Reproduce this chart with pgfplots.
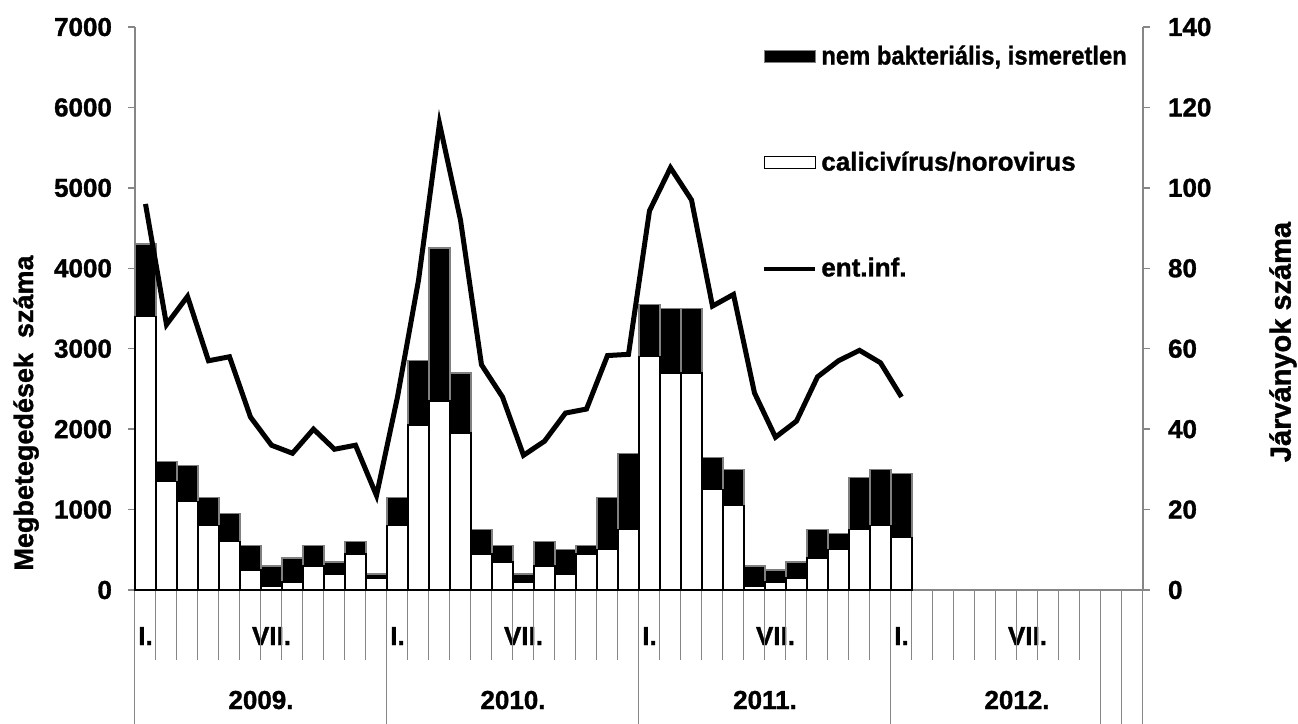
\documentclass[border=0pt]{standalone}
\usepackage{graphicx}
\usepackage{pgfplots}
\usepackage{pgfplotstable}
\pgfplotsset{compat=1.18}
\usepackage{fontspec}
\setmainfont{Liberation Sans}[BoldFeatures={FakeBold=1.2}]
\definecolor{axgray}{RGB}{134,134,134}
\newcommand{\lbl}{\bfseries\fontsize{13}{15}\selectfont}

\pgfplotstableread{
m white black
1 3400 900
2 1350 250
3 1100 450
4 800 350
5 600 350
6 250 300
7 50 250
8 100 300
9 300 250
10 200 150
11 450 150
12 150 50
13 800 350
14 2050 800
15 2350 1900
16 1950 750
17 450 300
18 350 200
19 100 100
20 300 300
21 200 300
22 450 100
23 500 650
24 750 950
25 2900 650
26 2700 800
27 2700 800
28 1250 400
29 1050 450
30 50 250
31 100 150
32 150 200
33 400 350
34 500 200
35 750 650
36 800 700
37 650 800
}\bars

\pgfplotstableread{
m v
1 96
2 66
3 73
4 57
5 58
6 43
7 36
8 34
9 40
10 35
11 36
12 23.5
13 48
14 77
15 116
16 92
17 56
18 48
19 33.5
20 37
21 44
22 45
23 58.3
24 58.6
25 94.3
26 105
27 97
28 70.6
29 73.5
30 49
31 38
32 42
33 53
34 57
35 59.6
36 56.5
37 48
}\ent

\begin{document}
\begin{tikzpicture}
\path[use as bounding box] (-67.5pt,-67pt) rectangle (581.5pt,295pt);
\begin{axis}[
  at={(0,0)}, anchor=south west, scale only axis,
  width=504pt, height=281.5pt,
  xmin=0.5, xmax=48.5, ymin=0, ymax=7000,
  axis y line*=left, axis x line*=bottom,
  axis line style={axgray, line width=0.75pt, -},
  ytick={0,1000,...,7000},
  tick align=outside, major tick length=3.5pt,
  ytick style={axgray, line width=0.75pt},
  xtick={1,7,13,19,25,31,37,43},
  xticklabels={I.,VII.,I.,VII.,I.,VII.,I.,VII.},
  xtick style={draw=none},
  xticklabel style={anchor=base, yshift=-24pt, font=\lbl},
  yticklabel={\lbl\pgfmathprintnumber{\tick}},
  yticklabel style={font=\lbl, xshift=-4.5pt},
  /pgf/number format/assume math mode=true,
  /pgf/number format/1000 sep={},
  ybar stacked, bar width=1,
  clip=false,
  ylabel={Megbetegedések\ \ száma},
  ylabel style={at={(rel axis cs:-0.1081,0.3144)}, anchor=center, font=\bfseries\fontsize{13.5}{16}\selectfont},
]
\addplot[fill=white, draw=black, line width=0.7pt] table[x=m, y=white]{\bars};
\addplot[fill=black, draw=gray, line width=0.7pt] table[x=m, y=black]{\bars};
\pgfplotsinvokeforeach{0.5,1.5,...,48.5}{
  \draw[axgray, line width=0.5pt] (axis cs:#1,0) -- ++(0pt,-35pt);
}
\pgfplotsinvokeforeach{0.5,12.5,24.5,36.5,46.5,47.5,48.5}{
  \draw[axgray, line width=0.5pt] (axis cs:#1,0) -- ++(0pt,-67pt);
}
\node[font=\lbl, anchor=base] at ([yshift=-59.5pt]axis cs:6.5,0) {2009.};
\node[font=\lbl, anchor=base] at ([yshift=-59.5pt]axis cs:18.5,0) {2010.};
\node[font=\lbl, anchor=base] at ([yshift=-59.5pt]axis cs:30.5,0) {2011.};
\node[font=\lbl, anchor=base] at ([yshift=-59.5pt]axis cs:42.5,0) {2012.};
\end{axis}
\begin{axis}[
  at={(0,0)}, anchor=south west, scale only axis,
  width=504pt, height=281.5pt,
  xmin=0.5, xmax=48.5, ymin=0, ymax=140,
  axis y line*=right, axis x line=none,
  axis line style={axgray, line width=0.75pt, -},
  ytick={0,20,...,140},
  tick align=outside, major tick length=3.5pt,
  ytick style={axgray, line width=0.75pt},
  yticklabel={\lbl\pgfmathprintnumber{\tick}},
  yticklabel style={font=\lbl, xshift=5.5pt},
  /pgf/number format/assume math mode=true,
  ylabel={Járványok száma},
  ylabel style={at={(rel axis cs:1.1389,0.4405)}, anchor=center, font=\bfseries\fontsize{14.5}{17}\selectfont},
  legend style={draw=none, fill=none, at={(rel axis cs:0.622,0.975)}, anchor=north west,
    row sep=38pt, font=\lbl, inner sep=0pt},
  legend cell align=left,
]
\addlegendimage{legend image code/.code={\draw[fill=black, draw=gray, line width=0.7pt] (0pt,-3pt) rectangle (25.5pt,3pt);}}
\addlegendentry{\scalebox{0.915}[1]{nem bakteriális, ismeretlen}}
\addlegendimage{legend image code/.code={\draw[fill=white, draw=black, line width=0.7pt] (0pt,-3pt) rectangle (25.5pt,3pt);}}
\addlegendentry{calicivírus/norovirus}
\addplot[black, line width=2.5pt, legend image code/.code={\draw[black, line width=2pt] (0pt,0pt) -- (25.5pt,0pt);}] table[x=m, y=v]{\ent};
\addlegendentry{ent.inf.}
\end{axis}
\end{tikzpicture}
\end{document}
